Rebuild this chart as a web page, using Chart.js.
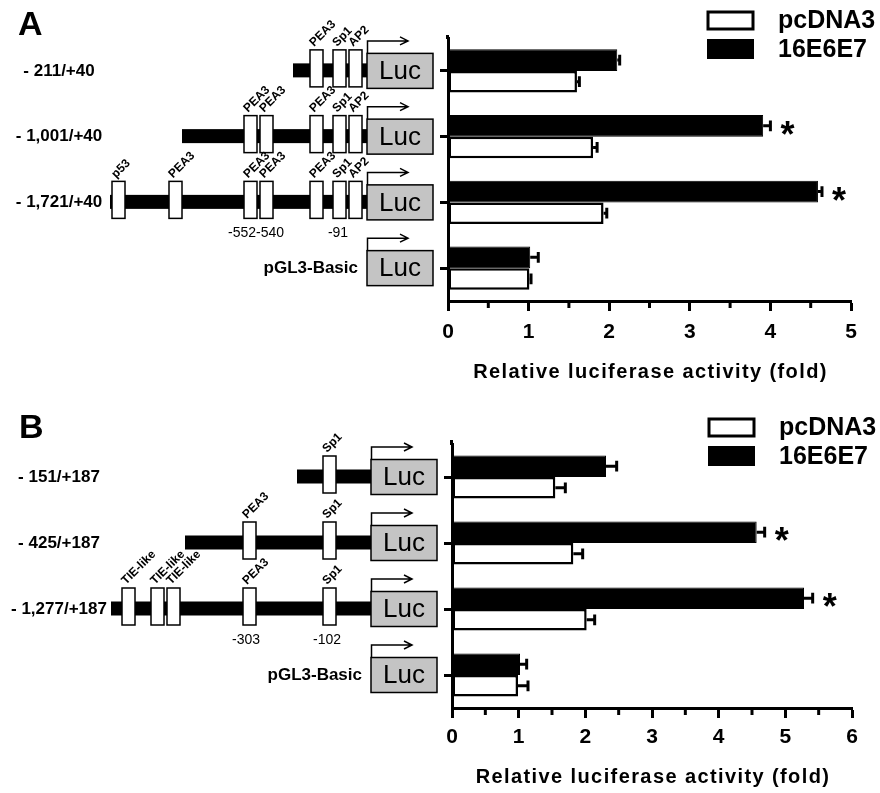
<!DOCTYPE html>
<html>
<head>
<meta charset="utf-8">
<script src="https://cdn.jsdelivr.net/npm/chart.js@4.4.0/dist/chart.umd.min.js"></script>
<style>
  html, body { margin: 0; padding: 0; background: #fff; }
  canvas { display: block; }
</style>
</head>
<body>
<canvas id="chartA" width="880" height="395"></canvas>
<canvas id="chartB" width="880" height="398"></canvas>
<script>
// Panel A data
const categoriesA = ['- 211/+40', '- 1,001/+40', '- 1,721/+40', 'pGL3-Basic'];
const e6e7A = [2.1, 3.91, 4.59, 1.02];
const e6e7ErrA = [0.03, 0.09, 0.05, 0.1];
const pcdnaA = [1.6, 1.8, 1.93, 1.01];
const pcdnaErrA = [0.03, 0.05, 0.04, 0.02];
const signifA = [false, true, true, false];
const xTicksA = [0, 1, 2, 3, 4, 5];

// Panel B data
const categoriesB = ['- 151/+187', '- 425/+187', '- 1,277/+187', 'pGL3-Basic'];
const e6e7B = [2.31, 4.57, 5.28, 1.02];
const e6e7ErrB = [0.16, 0.12, 0.13, 0.1];
const pcdnaB = [1.55, 1.82, 2.02, 0.99];
const pcdnaErrB = [0.15, 0.14, 0.12, 0.15];
const signifB = [false, true, true, false];
const xTicksB = [0, 1, 2, 3, 4, 5, 6];

const FONT = "'Liberation Sans', Arial, Helvetica, sans-serif";
const AXIS_TITLE = 'Relative luciferase activity (fold)';

// promoter schematics (x offsets from the Luc box left edge)
const schemeA = [
    { start: -74, sites: [['PEA3', -57], ['Sp1', -34], ['AP2', -18]] },
    { start: -185, sites: [['PEA3', -123], ['PEA3', -107], ['PEA3', -57], ['Sp1', -34], ['AP2', -18]] },
    { start: -257, sites: [['p53', -255], ['PEA3', -198], ['PEA3', -123], ['PEA3', -107], ['PEA3', -57], ['Sp1', -34], ['AP2', -18]],
      notes: [['-552-540', -111], ['-91', -29]] },
    { start: null, sites: [] }
];
const schemeB = [
    { start: -74, sites: [['Sp1', -48]] },
    { start: -186, sites: [['PEA3', -128], ['Sp1', -48]] },
    { start: -260, sites: [['TIE-like', -249], ['TIE-like', -220], ['TIE-like', -204], ['PEA3', -128], ['Sp1', -48]],
      notes: [['-303', -125], ['-102', -44]] },
    { start: null, sites: [] }
];

const promoterPlugin = {
    id: 'promoter',
    afterDraw(chart, args, opts) {
        const ctx = chart.ctx;
        const yScale = chart.scales.y;
        const lucX = chart.chartArea.left - 81;
        ctx.save();
        ctx.fillStyle = '#000';

        // panel letter
        ctx.font = 'bold 34px ' + FONT;
        ctx.textAlign = 'left';
        ctx.textBaseline = 'alphabetic';
        ctx.fillText(opts.letter, opts.letterX, opts.letterY);

        opts.rows.forEach((row, i) => {
            const cy = yScale.getPixelForValue(i);
            const label = chart.data.labels[i];

            // row label
            ctx.fillStyle = '#000';
            ctx.font = 'bold 17px ' + FONT;
            ctx.textBaseline = 'middle';
            if (row.start === null) {
                ctx.textAlign = 'right';
                ctx.fillText(label, lucX - 9, cy);
            } else {
                ctx.textAlign = 'center';
                ctx.fillText(label, 59, cy);
            }

            // promoter line
            if (row.start !== null) {
                ctx.fillRect(lucX + row.start, cy - 7.5, -row.start, 14);
            }

            // sites
            row.sites.forEach(([name, off]) => {
                const bx = lucX + off;
                const top = cy - 21;
                ctx.fillStyle = '#fff';
                ctx.fillRect(bx, top, 13, 37);
                ctx.strokeStyle = '#000';
                ctx.lineWidth = 1.5;
                ctx.strokeRect(bx, top, 13, 37);
                ctx.save();
                ctx.translate(bx + 4, top - 3);
                ctx.rotate(-Math.PI / 4);
                ctx.fillStyle = '#000';
                ctx.font = 'bold 12px ' + FONT;
                ctx.textAlign = 'left';
                ctx.textBaseline = 'alphabetic';
                ctx.fillText(name, 0, 0);
                ctx.restore();
            });

            // position notes
            (row.notes || []).forEach(([txt, off]) => {
                ctx.fillStyle = '#000';
                ctx.font = '14px ' + FONT;
                ctx.textAlign = 'center';
                ctx.textBaseline = 'middle';
                ctx.fillText(txt, lucX + off, cy + 31);
            });

            // Luc box
            ctx.fillStyle = '#c4c4c4';
            ctx.fillRect(lucX, cy - 17.5, 66, 35);
            ctx.strokeStyle = '#000';
            ctx.lineWidth = 1.5;
            ctx.strokeRect(lucX, cy - 17.5, 66, 35);
            ctx.fillStyle = '#000';
            ctx.font = '26px ' + FONT;
            ctx.textAlign = 'center';
            ctx.textBaseline = 'middle';
            ctx.fillText('Luc', lucX + 33, cy + 1);

            // transcription start arrow
            const ay = cy - 30;
            const ax = lucX + 41;
            ctx.lineWidth = 1.5;
            ctx.beginPath();
            ctx.moveTo(lucX + 0.5, cy - 17.5);
            ctx.lineTo(lucX + 0.5, ay);
            ctx.lineTo(ax, ay);
            ctx.moveTo(ax - 8, ay - 4);
            ctx.lineTo(ax, ay);
            ctx.lineTo(ax - 8, ay + 4);
            ctx.stroke();
        });
        ctx.restore();
    }
};

const errorBarPlugin = {
    id: 'errorBars',
    afterDatasetsDraw(chart, args, opts) {
        const ctx = chart.ctx;
        const xScale = chart.scales.x;
        ctx.save();
        ctx.strokeStyle = '#000';
        ctx.lineWidth = 3;
        chart.data.datasets.forEach((ds, di) => {
            chart.getDatasetMeta(di).data.forEach((bar, i) => {
                const x0 = xScale.getPixelForValue(ds.data[i]);
                const x1 = xScale.getPixelForValue(ds.data[i] + ds.errors[i]);
                const h = bar.height;
                ctx.beginPath();
                ctx.moveTo(x0, bar.y);
                ctx.lineTo(x1, bar.y);
                ctx.moveTo(x1, bar.y - h * 0.25);
                ctx.lineTo(x1, bar.y + h * 0.25);
                ctx.stroke();

                // significance marks on the 16E6E7 bars
                if (di === 0 && opts.signif[i]) {
                    ctx.fillStyle = '#000';
                    ctx.font = 'bold 36px ' + FONT;
                    ctx.textAlign = 'center';
                    ctx.textBaseline = 'alphabetic';
                    ctx.fillText('*', x1 + 17, bar.y + 21);
                }
            });
        });
        ctx.restore();
    }
};

// legend, minor ticks, axis title
const decorPlugin = {
    id: 'decor',
    afterDraw(chart, args, opts) {
        const ctx = chart.ctx;
        const { top, left, right, bottom } = chart.chartArea;
        const xScale = chart.scales.x;
        ctx.save();

        // y axis runs a little above the first band
        ctx.strokeStyle = '#000';
        ctx.lineWidth = 3;
        ctx.beginPath();
        ctx.moveTo(left - 0.5, top - opts.axisExtend);
        ctx.lineTo(left - 0.5, top + 1);
        ctx.stroke();

        // half-unit minor ticks
        for (let v = 0.5; v < xScale.max; v += 1) {
            const px = xScale.getPixelForValue(v);
            ctx.beginPath();
            ctx.moveTo(px, bottom);
            ctx.lineTo(px, bottom + 7);
            ctx.stroke();
        }

        // legend
        const lx = right - 143;
        const ly = opts.legendY;
        ctx.strokeRect(lx, ly, 45, 17);
        ctx.fillStyle = '#000';
        ctx.fillRect(lx - 1, ly + 27, 47, 20);
        ctx.font = 'bold 25px ' + FONT;
        ctx.textAlign = 'left';
        ctx.textBaseline = 'middle';
        ctx.fillText('pcDNA3', lx + 70, ly + 9);
        ctx.fillText('16E6E7', lx + 70, ly + 38);

        // axis title
        ctx.font = 'bold 20px ' + FONT;
        if ('letterSpacing' in ctx) ctx.letterSpacing = '1.4px';
        ctx.textAlign = 'center';
        ctx.fillText(AXIS_TITLE, (left + right) / 2 + 1, opts.titleY);
        if ('letterSpacing' in ctx) ctx.letterSpacing = '0px';
        ctx.restore();
    }
};

function buildPanel(id, cfg) {
    return new Chart(document.getElementById(id), {
        type: 'bar',
        data: {
            labels: cfg.labels,
            datasets: [{
                label: '16E6E7',
                data: cfg.e6e7,
                errors: cfg.e6e7Err,
                backgroundColor: '#000',
                borderColor: '#000',
                borderWidth: 1,
                borderSkipped: false
            }, {
                label: 'pcDNA3',
                data: cfg.pcdna,
                errors: cfg.pcdnaErr,
                backgroundColor: '#fff',
                borderColor: '#000',
                borderWidth: 2.5,
                borderSkipped: false
            }]
        },
        options: {
            indexAxis: 'y',
            responsive: false,
            animation: false,
            layout: { padding: { top: cfg.top, right: cfg.right, bottom: 0, left: 0 } },
            datasets: { bar: { categoryPercentage: 0.655, barPercentage: 1 } },
            plugins: {
                legend: { display: false },
                tooltip: { enabled: false },
                promoter: { rows: cfg.scheme, letter: cfg.letter, letterX: cfg.letterX, letterY: cfg.letterY },
                errorBars: { signif: cfg.signif },
                decor: { legendY: cfg.legendY, titleY: cfg.titleY, axisExtend: cfg.axisExtend }
            },
            scales: {
                x: {
                    min: 0,
                    max: cfg.xTicks[cfg.xTicks.length - 1],
                    afterFit: (s) => { s.height = cfg.xHeight; },
                    ticks: {
                        stepSize: 1,
                        autoSkip: false,
                        maxRotation: 0,
                        padding: cfg.tickPad,
                        color: '#000',
                        font: { family: FONT, size: 21, weight: 'bold' },
                        callback: (v) => cfg.xTicks.includes(v) ? String(v) : ''
                    },
                    grid: { drawOnChartArea: false, tickLength: 10, tickWidth: 3, tickColor: '#000' },
                    border: { width: 3, color: '#000' }
                },
                y: {
                    afterFit: (s) => { s.width = cfg.axisX; },
                    ticks: { display: false },
                    grid: { offset: false, drawOnChartArea: false, tickLength: 8, tickWidth: 3, tickColor: '#000' },
                    border: { width: 3, color: '#000' }
                }
            }
        },
        plugins: [promoterPlugin, errorBarPlugin, decorPlugin]
    });
}

document.addEventListener('DOMContentLoaded', () => {
    buildPanel('chartA', {
        labels: categoriesA, e6e7: e6e7A, e6e7Err: e6e7ErrA, pcdna: pcdnaA, pcdnaErr: pcdnaErrA,
        signif: signifA, xTicks: xTicksA, scheme: schemeA, letter: 'A', letterX: 18, letterY: 35,
        top: 38, right: 29, axisX: 448, xHeight: 94, tickPad: 9, axisExtend: 3,
        legendY: 12, titleY: 372
    });
    buildPanel('chartB', {
        labels: categoriesB, e6e7: e6e7B, e6e7Err: e6e7ErrB, pcdna: pcdnaB, pcdnaErr: pcdnaErrB,
        signif: signifB, xTicks: xTicksB, scheme: schemeB, letter: 'B', letterX: 19, letterY: 43,
        top: 49, right: 28, axisX: 452, xHeight: 85, tickPad: 7, axisExtend: 4,
        legendY: 24, titleY: 382
    });
});
</script>
</body>
</html>
